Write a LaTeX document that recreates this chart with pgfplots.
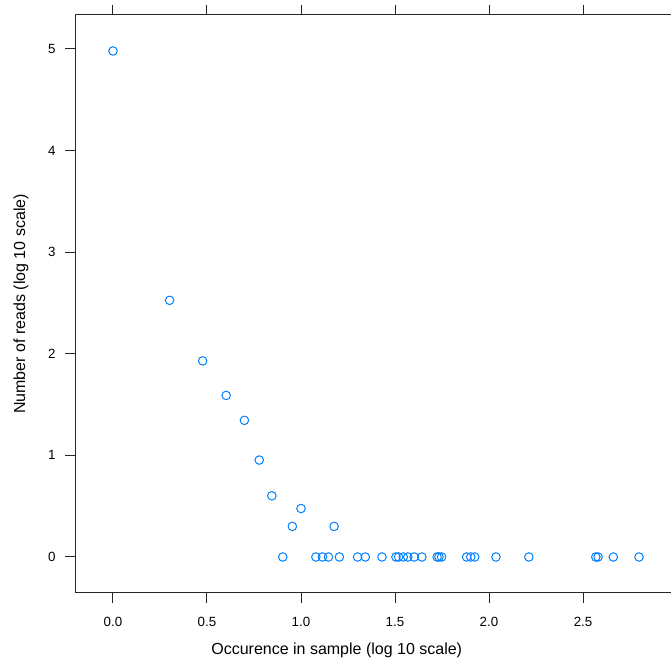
\documentclass[border=0pt]{standalone}
\usepackage{fontspec}
\setmainfont{Liberation Sans}
\usepackage{pgfplots}
\pgfplotsset{compat=1.18}
\definecolor{latblue}{HTML}{0080FF}
\begin{document}
\begin{tikzpicture}
\begin{axis}[
  x=141pt, y=76.2pt,
  xmin=-0.202, xmax=3.2, ymin=-0.354, ymax=5.335,
  axis line style={black!85, line width=0.75pt},
  tick style={black!85, line width=0.75pt},
  tick align=outside,
  major tick length=7.5pt,
  xtick={0,0.5,1,1.5,2,2.5}, ytick={0,1,2,3,4,5},
  xtick pos=both, ytick pos=left,
  xticklabel={\pgfmathprintnumber[fixed,fixed zerofill,precision=1]{\tick}},
  /pgf/number format/assume math mode=true,
  tick label style={font=\fontsize{10}{12}\selectfont},
  xticklabel style={yshift=-7pt},
  yticklabel style={xshift=-3.5pt},
  label style={font=\fontsize{12}{14}\selectfont},
  xlabel={Occurence in sample (log 10 scale)},
  ylabel={Number of reads (log 10 scale)},
  xlabel style={at={(axis cs:1.19,-0.915)}, anchor=center},
  ylabel style={at={(axis cs:-0.49,2.49)}, anchor=center},
  clip=false,
]
\addplot[only marks, mark=o, mark size=3.2pt, latblue, line width=0.75pt] coordinates {
  (0.000,4.980) (0.301,2.526) (0.477,1.930) (0.602,1.590) (0.699,1.345)
  (0.778,0.954) (0.845,0.602) (0.954,0.301) (1.000,0.477) (1.176,0.301)
  (0.903,0) (1.079,0) (1.114,0) (1.146,0) (1.204,0) (1.301,0) (1.342,0)
  (1.431,0) (1.505,0) (1.519,0) (1.544,0) (1.568,0) (1.602,0) (1.643,0)
  (1.724,0) (1.734,0) (1.748,0) (1.881,0) (1.903,0) (1.924,0) (2.037,0)
  (2.212,0) (2.568,0) (2.580,0) (2.661,0) (2.798,0)
};
\coordinate (bl) at (axis cs:-0.601,-1.073);
\coordinate (tr) at (axis cs:2.968,5.482);
\end{axis}
\pgfresetboundingbox
\useasboundingbox (bl) rectangle (tr);
\end{tikzpicture}
\end{document}
